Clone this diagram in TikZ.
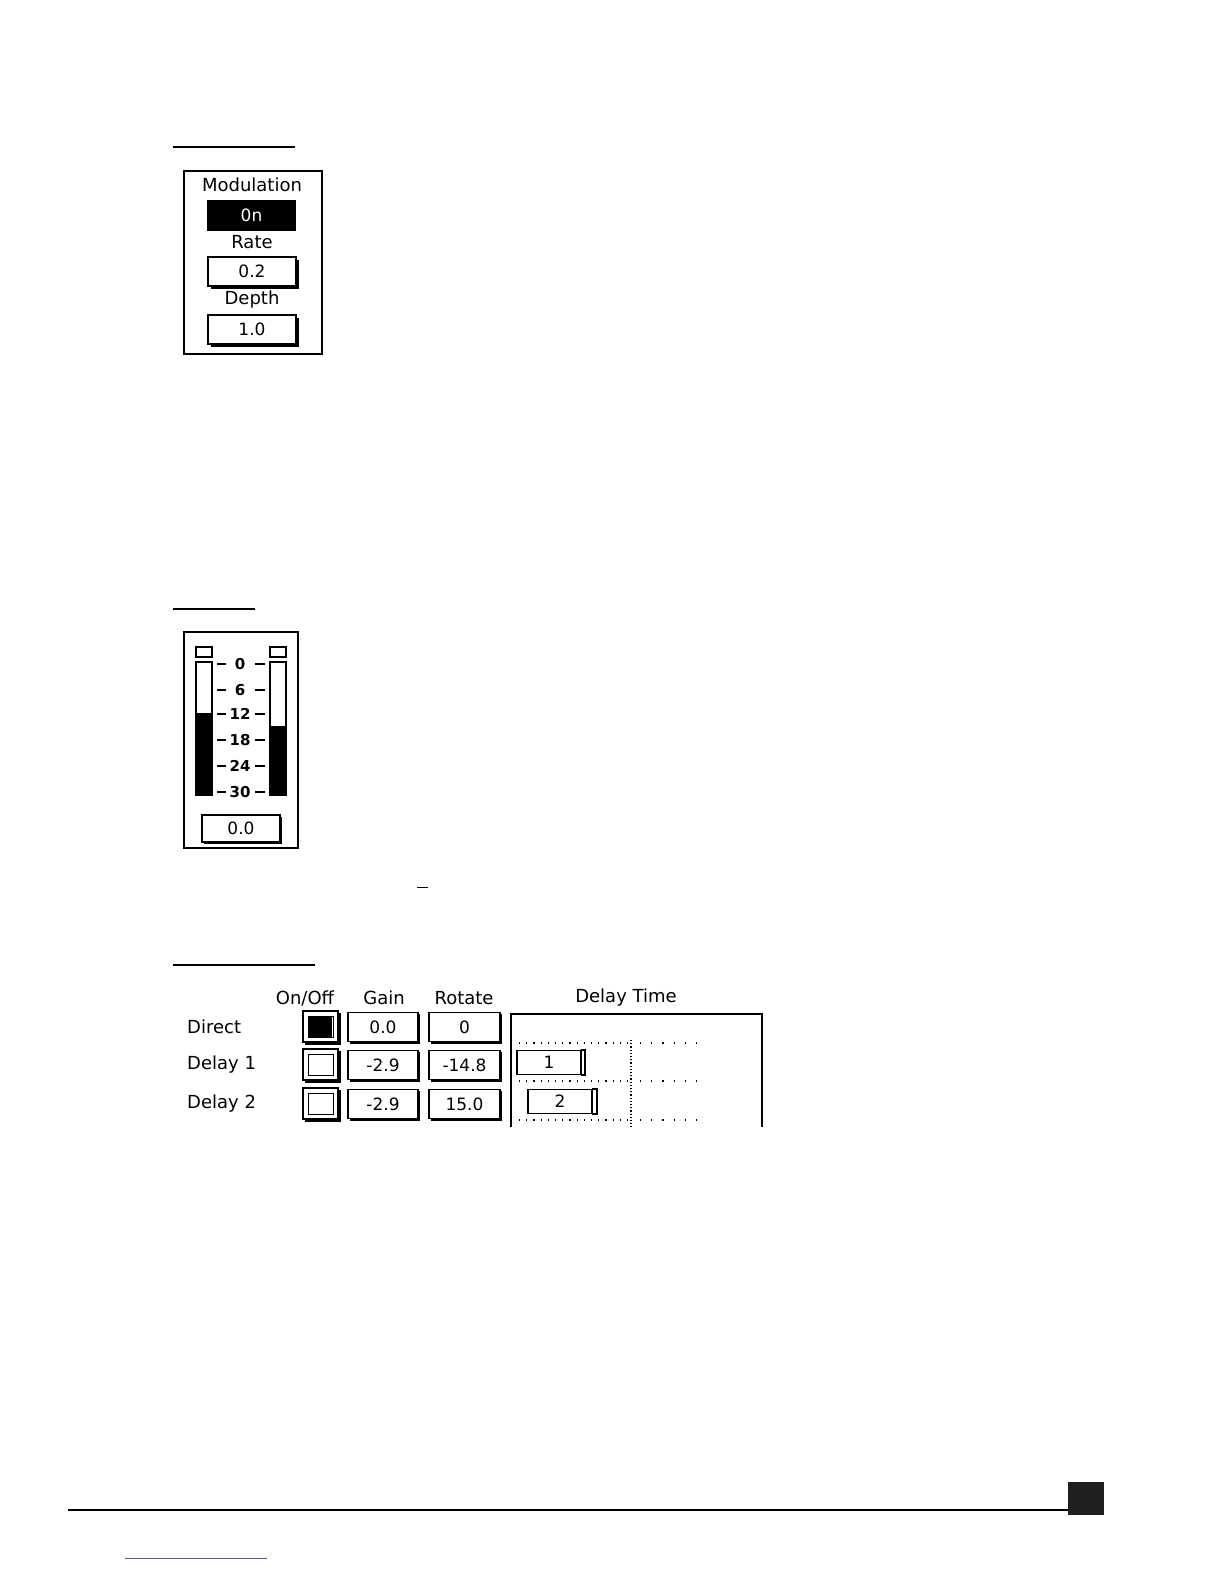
\documentclass[tikz,border=0pt]{standalone}
\usepackage{fontspec}
\setmainfont{DejaVu Sans}
\usetikzlibrary{positioning}
\definecolor{linkblue}{RGB}{70,90,200}
\tikzset{
    panel/.style={draw=black, line width=1.6pt},
    valbox/.style={draw=black, line width=1.2pt, fill=white, inner sep=0pt,
             font=\fontsize{17}{17}\selectfont},
    shadow/.style={fill=black},
    lbl/.style={inner sep=0pt, font=\fontsize{18}{18}\selectfont},
    scalelbl/.style={inner sep=0pt, font=\fontsize{15}{15}\selectfont\bfseries},
    rule/.style={draw=black, line width=1.4pt},
    dots/.style={draw=black, line width=1.6pt, dash pattern=on 1.2pt off 6pt}
  }
\begin{document}
\begin{tikzpicture}[x=1pt,y=-1pt]
  \useasboundingbox (0,0) rectangle (1224,1584);
  % Modulation panel
  \draw[rule] (173,147) -- (295,147);
  \draw[panel] (184,171) rectangle (322,354);
  \node[lbl] (modtitle) at (252,185) {Modulation};
  \node[valbox, fill=black, text=white, minimum width=87pt, minimum height=29pt] (modon) at (251.5,215.5) {0n};
  \node[lbl] (ratelbl) at (252,242) {Rate};
  \fill[shadow] (211,260) rectangle (299,289);
  \node[valbox, minimum width=88pt, minimum height=29pt] (rateval) at (252,271.5) {0.2};
  \node[lbl] (depthlbl) at (252,300) {Depth};
  \fill[shadow] (211,318) rectangle (299,347);
  \node[valbox, minimum width=88pt, minimum height=29pt] (depthval) at (252,329.5) {1.0};
  % Meter panel
  \draw[rule] (173,609) -- (255,609);
  \draw[panel] (184,632) rectangle (298,848);
  \draw[line width=1.2pt] (196,647) rectangle (212,657);
  \draw[line width=1.2pt] (270,647) rectangle (286,657);
  \fill (196,713) rectangle (212,795);
  \fill (270,726) rectangle (286,795);
  \draw[line width=1.2pt] (196,662) rectangle (212,795);
  \draw[line width=1.2pt] (270,662) rectangle (286,795);
  \foreach \v/\y in {0/664, 6/690, 12/714, 18/740, 24/766, 30/792} {
    \node[scalelbl] (scale\v) at (240,\y) {\v};
    \draw[line width=1.4pt] (217,\y) -- (226,\y);
    \draw[line width=1.4pt] (255,\y) -- (265,\y);
  }
  \fill[shadow] (204,817) rectangle (282,844);
  \node[valbox, minimum width=78pt, minimum height=27pt] (meterval) at (241,828.5) {0.0};
  \draw[line width=1pt] (417,887) -- (428,887);
  % Delay table
  \draw[rule] (173,965) -- (315,965);
  \node[lbl] (hon) at (305,998) {On/Off};
  \node[lbl] (hgain) at (384,998) {Gain};
  \node[lbl] (hrot) at (464,998) {Rotate};
  \node[lbl] (hdelay) at (626,998) {Delay Time};
  \foreach \name/\y/\g/\r [count=\i] in {Direct/1027/0.0/0, Delay 1/1065/-2.9/-14.8, Delay 2/1104/-2.9/15.0} {
    \node[lbl, anchor=west] (row\i) at (187,\y) {\name};
    \fill[shadow] (305,\y-14) rectangle (341,\y+18);
    \draw[line width=1.2pt, fill=white] (303,\y-16) rectangle (338,\y+15);
    \draw[line width=1pt] (308,\y-11) rectangle (333,\y+10);
    \fill[shadow] (350,\y-13) rectangle (420,\y+17);
    \node[valbox, minimum width=70pt, minimum height=29pt] (gain\i) at (383,\y) {\g};
    \fill[shadow] (431,\y-13) rectangle (502,\y+17);
    \node[valbox, minimum width=71pt, minimum height=29pt] (rot\i) at (464.5,\y) {\r};
  }
  \fill (309,1016) rectangle (332,1038);
  \draw[line width=1.4pt] (511,1127) -- (511,1014) -- (762,1014) -- (762,1127);
  \foreach \y in {1043,1081,1120} {
    \draw[dots] (519,\y) -- (631,\y);
    \draw[line width=1.2pt, dash pattern=on 1.2pt off 10pt] (640,\y) -- (700,\y);
  }
  \draw[line width=1.2pt, dash pattern=on 1.2pt off 2pt] (631,1040) -- (631,1127);
  \node[valbox, minimum width=64pt, minimum height=24pt] (bar1) at (549,1062.5) {1};
  \draw[line width=1.2pt] (581,1050) -- (585,1050) -- (585,1075) -- (581,1075);
  \node[valbox, minimum width=64pt, minimum height=24pt] (bar2) at (560,1101.5) {2};
  \draw[line width=1.2pt] (592,1089) -- (597,1089) -- (597,1114) -- (592,1114);
  % footer
  \draw[line width=2pt] (68,1510) -- (1070,1510);
  \fill[black!88] (1068,1482) rectangle (1104,1515);
  \draw[linkblue, line width=1pt] (125,1558) -- (267,1558);
\end{tikzpicture}
\end{document}
